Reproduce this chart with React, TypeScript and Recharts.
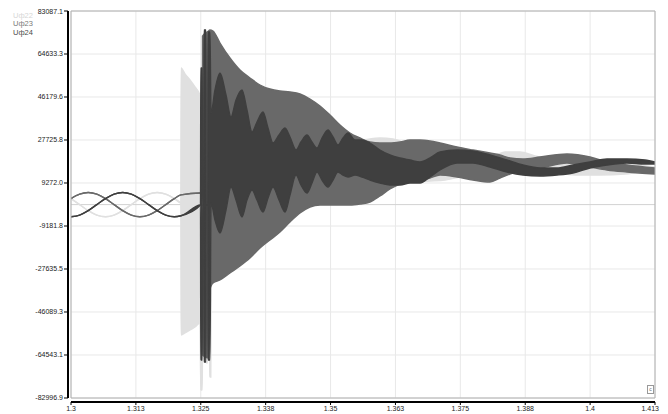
import React from 'react';
import {
  ComposedChart,
  Area,
  XAxis,
  YAxis,
  CartesianGrid,
  ReferenceLine,
  ReferenceArea,
} from 'recharts';

const X_MIN = 1.3;
const X_MAX = 1.413;
const Y_MIN = -82996.9;
const Y_MAX = 83087.1;

const xTickLabels = ['1.3', '1.313', '1.325', '1.338', '1.35', '1.363', '1.375', '1.388', '1.4', '1.413'];
const yTickLabels = ['-82996.9', '-64543.1', '-46089.3', '-27635.5', '-9181.8', '9272.0', '27725.8', '46179.6', '64633.3', '83087.1'];

const seriesNames = ['Uф22', 'Uф23', 'Uф24'];
const seriesColors = ['#e0e0e0', '#696969', '#3f3f3f'];
const legendColors = ['#d6d6d6', '#7a7a7a', '#4a4a4a'];

// Uф22
const times22 = [1.3, 1.30167, 1.30333, 1.305, 1.30667, 1.30833, 1.31, 1.31167, 1.31333, 1.315, 1.31667, 1.31833, 1.32, 1.321245, 1.321303, 1.322058, 1.32303, 1.323993, 1.32496, 1.325115, 1.325386, 1.325444, 1.32618, 1.326218, 1.326373, 1.326411, 1.326817, 1.326856, 1.32705, 1.327128, 1.33463, 1.34431, 1.35205, 1.35592, 1.35979, 1.3623, 1.36559, 1.36946, 1.37237, 1.37527, 1.37914, 1.38204, 1.38397, 1.38688, 1.38978, 1.39365, 1.39752, 1.40236, 1.40719, 1.4101, 1.413];
const low22 = [2600, 0, -2600, -4500, -5200, -4500, -2600, 0, 2600, 4500, 5200, 4500, 2600, 640, -55960, -55102, -53815, -52528, -50811, -79564, -79564, -64000, -64000, -67977, -67977, -64000, -64000, -73985, -73985, -33000, -19482, -170, 1976, 2835, 5409, 7984, 9701, 10130, 10559, 11847, 13993, 15709, 16997, 16997, 15709, 13993, 12705, 12705, 13134, 13993, 14422];
const high22 = [2600, 0, -2600, -4500, -5200, -4500, -2600, 0, 2600, 4500, 5200, 4500, 2600, 640, 58625, 56050, 53475, 50470, 47038, 44892, 44892, 44892, 44892, 44892, 44892, 44892, 44892, 44892, 44892, 60000, 49183, 40600, 32017, 27726, 28584, 28155, 25580, 24292, 23434, 22576, 21288, 21288, 22576, 22576, 20859, 19142, 18284, 17855, 18284, 16997, 16138];

// Uф23
const times23 = [1.3, 1.30167, 1.30333, 1.305, 1.30667, 1.30833, 1.31, 1.31167, 1.31333, 1.315, 1.31667, 1.31833, 1.32, 1.32128, 1.325057, 1.325405, 1.325444, 1.326624, 1.326856, 1.32748, 1.32883, 1.33076, 1.3327, 1.33463, 1.33657, 1.3385, 1.34044, 1.34237, 1.34431, 1.34624, 1.34818, 1.35011, 1.35205, 1.35398, 1.35592, 1.35785, 1.35979, 1.36172, 1.36366, 1.36559, 1.36753, 1.36946, 1.3714, 1.37469, 1.37778, 1.38107, 1.38301, 1.38494, 1.38746, 1.39075, 1.39597, 1.40042, 1.40371, 1.40758, 1.413];
const low23 = [2600, 4500, 5200, 4500, 2600, 0, -2600, -4500, -5200, -4500, -2600, 0, 2600, 4150, 4980, 4980, -64543, -65830, -36648, -33644, -32357, -29353, -26349, -22915, -18624, -15190, -11757, -7466, -3603, -1028, -170, -170, -170, -170, 260, 1118, 3693, 6697, 8843, 10130, 10559, 11418, 12705, 11847, 10559, 9701, 11418, 13134, 14851, 15709, 17855, 16138, 14851, 13993, 13134];
const high23 = [2600, 4500, 5200, 4500, 2600, 0, -2600, -4500, -5200, -4500, -2600, 0, 2600, 4150, 4980, 4980, 72358, 74504, 74933, 74504, 69354, 62917, 57767, 54333, 51329, 49612, 48754, 48325, 47467, 45321, 42317, 38455, 34163, 30730, 28584, 26868, 26439, 26439, 26868, 27726, 27726, 27297, 26439, 24722, 23434, 22147, 21288, 20001, 19572, 20430, 21717, 20430, 18284, 16997, 15709];

// Uф24
const times24 = [1.3, 1.30167, 1.30333, 1.305, 1.30667, 1.30833, 1.31, 1.31167, 1.31333, 1.315, 1.31667, 1.31833, 1.32, 1.32128, 1.325057, 1.325115, 1.325405, 1.325444, 1.325695, 1.325734, 1.326121, 1.32616, 1.326469, 1.326508, 1.326895, 1.32709, 1.32786, 1.32883, 1.32999, 1.33096, 1.33193, 1.33309, 1.33405, 1.33502, 1.33599, 1.33715, 1.33812, 1.33909, 1.34025, 1.34141, 1.34237, 1.34354, 1.3445, 1.34566, 1.34663, 1.3476, 1.34857, 1.34973, 1.35069, 1.35166, 1.35263, 1.3536, 1.35495, 1.35631, 1.35785, 1.35979, 1.36172, 1.36366, 1.36559, 1.36753, 1.36946, 1.3714, 1.37469, 1.37778, 1.38107, 1.38436, 1.38746, 1.39075, 1.39404, 1.39713, 1.40042, 1.40371, 1.40758, 1.41106, 1.413];
const low24 = [-5200, -4500, -2600, 0, 2600, 4500, 5200, 4500, 2600, 0, -2600, -4500, -5200, -4800, -200, -66690, -66690, -200, -200, -67548, -67548, -200, -200, -66690, -66690, 689, -6607, -12186, -2316, 7555, 1976, -5320, 1976, 6268, 1976, -3174, 2835, 7555, 1976, -3174, 4122, 12705, 8414, 4980, 9272, 13993, 10559, 7555, 10559, 13993, 12705, 11847, 12705, 11847, 10559, 9272, 8414, 8414, 9272, 9272, 11847, 14851, 17855, 17855, 16138, 13993, 12705, 12276, 12705, 13563, 15709, 16997, 17855, 17426, 17426];
const high24 = [-5200, -4500, -2600, 0, 2600, 4500, 5200, 4500, 2600, 0, -2600, -4500, -5200, -4800, -200, 58625, 58625, -200, -200, 74933, 74933, -200, -200, 74075, 74075, 39313, 49183, 56479, 47038, 37597, 44892, 49183, 40600, 31159, 35451, 39742, 32876, 26439, 29872, 32876, 29013, 23434, 26868, 29872, 26868, 24292, 28584, 32017, 29013, 25580, 28584, 30730, 27726, 27726, 26439, 23434, 21288, 20001, 19142, 18284, 20001, 22576, 23434, 23005, 21288, 19142, 16997, 15709, 15709, 16997, 18284, 19572, 19572, 19142, 18284];

const build = (t: number[], lo: number[], hi: number[]) =>
  t.map((x, i) => ({ t: x, range: [lo[i], hi[i]] }));

const data22 = build(times22, low22, high22);
const data23 = build(times23, low23, high23);
const data24 = build(times24, low24, high24);
const seriesData = [data22, data23, data24];

const xTicks = xTickLabels.map((_, i) => X_MIN + (i * (X_MAX - X_MIN)) / (xTickLabels.length - 1));
const yTicks = yTickLabels.map((s) => Number(s));

const FONT = '"Liberation Sans", Arial, sans-serif';

const XTick = (props: any) => {
  const { x, y, index } = props;
  const last = index === xTickLabels.length - 1;
  return (
    <text
      x={last ? x + 4 : x}
      y={y}
      dy="0.71em"
      textAnchor={last ? 'end' : 'middle'}
      fontSize={7}
      fill="#222"
      fontFamily={FONT}
    >
      {xTickLabels[index]}
    </text>
  );
};

export default function App() {
  return (
    <div style={{ position: 'relative', width: 660, height: 406, fontFamily: FONT }}>
      <style>{'html, body { overflow: hidden; } svg.recharts-surface { overflow: visible !important; }'}</style>
      <ComposedChart width={660} height={406} margin={{ top: 3, right: 13, bottom: 0, left: 0 }}>
        <CartesianGrid stroke="#e8e8e8" strokeWidth={1} />
        <ReferenceLine y={0} stroke="#d2d2d2" strokeWidth={1} zIndex={-50} />
        <XAxis
          type="number"
          dataKey="t"
          domain={[X_MIN, X_MAX]}
          ticks={xTicks}
          allowDataOverflow
          interval={0}
          height={16}
          tick={<XTick />}
          tickSize={3}
          tickMargin={5}
          axisLine={{ stroke: '#000', strokeWidth: 2, transform: 'translate(0,4)' }}
          tickLine={{ stroke: '#000', strokeWidth: 1, transform: 'translate(0,4)' }}
        />
        <YAxis
          type="number"
          domain={[Y_MIN, Y_MAX]}
          ticks={yTicks}
          allowDataOverflow
          interval={0}
          width={63}
          tickFormatter={(v: number, i: number) => yTickLabels[i]}
          tick={{ fontSize: 7, fill: '#222', fontFamily: FONT }}
          tickSize={4}
          tickMargin={4}
          axisLine={{ stroke: '#000', strokeWidth: 2, transform: 'translate(-3,0)' }}
          tickLine={{ stroke: '#000', strokeWidth: 1, transform: 'translate(-3,0)' }}
        />
        {seriesData.map((d, k) => (
          <Area
            key={seriesNames[k]}
            name={seriesNames[k]}
            data={d}
            dataKey="range"
            type="monotone"
            stroke={seriesColors[k]}
            strokeWidth={1.4}
            fill={seriesColors[k]}
            fillOpacity={1}
            dot={false}
            activeDot={false}
            isAnimationActive={false}
          />
        ))}
        <ReferenceArea x1={X_MIN} x2={X_MAX} y1={Y_MIN} y2={Y_MAX} fill="none" stroke="#b0b0b0" strokeWidth={1} ifOverflow="visible" />
      </ComposedChart>
      <div style={{ position: 'absolute', left: 5, top: 4, fontSize: 7.5, lineHeight: '8.3px', fontFamily: FONT }}>
        {seriesNames.map((n, k) => (
          <div key={n} style={{ color: legendColors[k] }}>{n}</div>
        ))}
      </div>
      <div
        style={{
          position: 'absolute',
          left: 639,
          top: 377,
          width: 5,
          height: 7,
          border: '1px solid #999',
          background: '#fff',
          fontSize: 5,
          lineHeight: '7px',
          textAlign: 'center',
          color: '#666',
          fontFamily: FONT,
        }}
      >
        c
      </div>
    </div>
  );
}
